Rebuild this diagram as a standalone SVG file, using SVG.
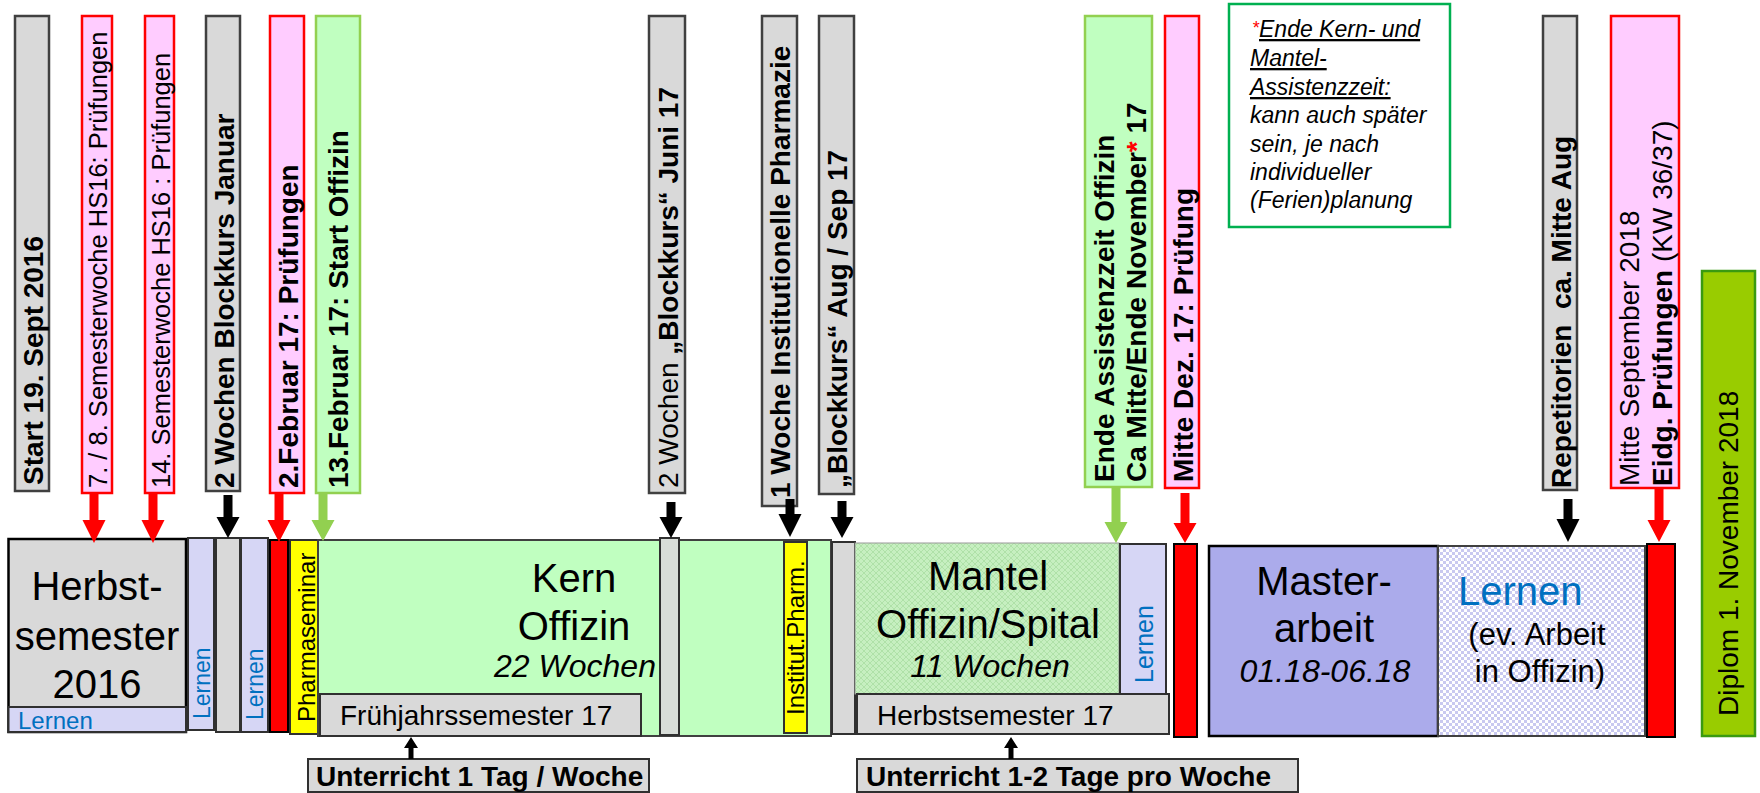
<svg xmlns="http://www.w3.org/2000/svg" width="1760" height="793" viewBox="0 0 1760 793">
<style>
text{font-family:"Liberation Sans",Arial,sans-serif;fill:#000}
.b28{font-size:28px;font-weight:bold}
.r25{font-size:25.5px}
.r28{font-size:28px}
.gbox{fill:#d9d9d9;stroke:#404040;stroke-width:2.5}
.pbox{fill:#ffccff;stroke:#ff0000;stroke-width:2.5}
.grbox{fill:#c0ffc0;stroke:#92d050;stroke-width:2.5}
.lern{fill:#d6d6f5;stroke:#303030;stroke-width:2}
.lt{fill:#0070c0}
.red{fill:#ff0000;stroke:#000;stroke-width:2}
.yel{fill:#ffff00;stroke:#303030;stroke-width:2}
.gray{fill:#d9d9d9;stroke:#303030;stroke-width:2}
.big{font-size:40px}
.it{font-style:italic}
.note{font-size:23px;font-style:italic}
.ar-r{fill:#ff0000}
.ar-k{fill:#000}
.ar-g{fill:#92d050}
</style>
<defs>
<pattern id="pMantel" width="6" height="6" patternUnits="userSpaceOnUse"><rect width="6" height="6" fill="#c6efc0"/><path d="M0 3 L3 0 L6 3 L3 6 Z" fill="none" stroke="#ade0a5" stroke-width="0.9"/></pattern>
<pattern id="pLernen" width="6" height="6" patternUnits="userSpaceOnUse"><rect width="6" height="6" fill="#ffffff"/><rect width="3" height="3" fill="#c9c9f0"/><rect x="3" y="3" width="3" height="3" fill="#c9c9f0"/></pattern>
</defs>

<!-- top labels -->
<g id="lbl-start"><rect class="gbox" x="15" y="16" width="34" height="475"/><text class="b28" transform="translate(43,485) rotate(-90)">Start 19. Sept 2016</text></g>
<g id="lbl-78"><rect class="pbox" x="82" y="16" width="30" height="477"/><text class="r25" transform="translate(107,488) rotate(-90)">7. / 8. Semesterwoche HS16: Prüfungen</text></g>
<g id="lbl-14"><rect class="pbox" x="145" y="16" width="29" height="477"/><text class="r25" transform="translate(170,488) rotate(-90)">14. Semesterwoche HS16 : Prüfungen</text></g>
<g id="lbl-januar"><rect class="gbox" x="206" y="16" width="34" height="475"/><text class="b28" transform="translate(234,488) rotate(-90)">2 Wochen Blockkurs Januar</text></g>
<g id="lbl-feb2"><rect class="pbox" x="270" y="16" width="34" height="477"/><text class="b28" transform="translate(298,488) rotate(-90)">2.Februar 17: Prüfungen</text></g>
<g id="lbl-feb13"><rect class="grbox" x="316" y="16" width="44" height="477"/><text class="b28" transform="translate(348,488) rotate(-90)">13.Februar 17: Start Offizin</text></g>
<g id="lbl-juni"><rect class="gbox" x="649" y="16" width="36" height="477"/><text class="b28" transform="translate(678,488) rotate(-90)"><tspan font-weight="normal">2 Wochen </tspan>„Blockkurs“ Juni 17</text></g>
<g id="lbl-institut"><rect class="gbox" x="762" y="16" width="35" height="490"/><text class="b28" transform="translate(790,498) rotate(-90)">1 Woche Institutionelle Pharmazie</text></g>
<g id="lbl-aug"><rect class="gbox" x="819" y="16" width="35" height="478"/><text class="b28" font-size="27px" transform="translate(847,488) rotate(-90)">„Blockkurs“ Aug / Sep 17</text></g>
<g id="lbl-ende"><rect class="grbox" x="1085" y="16" width="67" height="471"/><text class="b28" transform="translate(1114,482) rotate(-90)">Ende Assistenzzeit Offizin</text><text class="b28" transform="translate(1146,482) rotate(-90)">Ca Mitte/Ende November<tspan fill="#ff0000">*</tspan> 17</text></g>
<g id="lbl-dez"><rect class="pbox" x="1165" y="16" width="34" height="472"/><text class="b28" transform="translate(1193,482) rotate(-90)">Mitte Dez. 17: Prüfung</text></g>
<g id="note"><rect x="1229" y="4" width="221" height="223" fill="#fff" stroke="#00b050" stroke-width="2.5"/>
<text class="note" x="1252" y="37"><tspan fill="#ff0000" font-size="18px" dy="-3">*</tspan><tspan dy="3" text-decoration="underline">Ende Kern- und</tspan></text>
<text class="note" x="1250" y="66" text-decoration="underline">Mantel-</text>
<text class="note" x="1250" y="95" text-decoration="underline">Assistenzzeit:</text>
<text class="note" x="1250" y="123">kann auch später</text>
<text class="note" x="1250" y="152">sein, je nach</text>
<text class="note" x="1250" y="180">individueller</text>
<text class="note" x="1250" y="208">(Ferien)planung</text>
</g>
<g id="lbl-rep"><rect class="gbox" x="1543" y="16" width="34" height="474"/><text class="b28" transform="translate(1571,488) rotate(-90)" xml:space="preserve">Repetitorien  ca. Mitte Aug</text></g>
<g id="lbl-sept"><rect class="pbox" x="1611" y="16" width="68" height="472"/><text class="r28" transform="translate(1639,486) rotate(-90)">Mitte September 2018</text><text class="r28" transform="translate(1672,486) rotate(-90)"><tspan font-weight="bold">Eidg. Prüfungen</tspan> (KW 36/37)</text></g>
<g id="lbl-diplom"><rect x="1702" y="271" width="53" height="465" fill="#99cc00" stroke="#3a9a10" stroke-width="2.5"/><text class="r28" transform="translate(1738,716) rotate(-90)">Diplom 1. November 2018</text></g>

<!-- main bar -->
<g id="herbst16"><rect x="8.5" y="539" width="177.5" height="193" fill="#d9d9d9" stroke="#000" stroke-width="2.5"/>
<text class="big" x="97" y="600" text-anchor="middle">Herbst-</text>
<text class="big" x="97" y="650" text-anchor="middle">semester</text>
<text class="big" x="97" y="698" text-anchor="middle">2016</text>
<rect x="8.5" y="707" width="177.5" height="25" class="lern"/><text class="lt" font-size="24px" x="18" y="729">Lernen</text></g>
<g id="lernen1"><rect class="lern" x="188" y="538" width="26" height="192"/><text class="lt" font-size="23px" transform="translate(210,719) rotate(-90)">Lernen</text></g>
<g id="block-jan"><rect class="gray" x="216" y="538" width="24" height="194"/></g>
<g id="lernen2"><rect class="lern" x="241" y="538" width="27" height="194"/><text class="lt" font-size="23px" transform="translate(263,720) rotate(-90)">Lernen</text></g>
<g id="pruef-feb"><rect class="red" x="270" y="540" width="18" height="192"/></g>
<g id="pharmaseminar"><rect class="yel" x="290" y="540" width="28" height="194"/><text font-size="24px" transform="translate(315,722) rotate(-90)">Pharmaseminar</text></g>
<g id="kern"><rect x="318" y="540" width="513" height="196" fill="#c0ffc0" stroke="#404040" stroke-width="2"/>
<text class="big" x="574" y="592" text-anchor="middle">Kern</text>
<text class="big" x="574" y="640" text-anchor="middle">Offizin</text>
<text class="it" font-size="32px" x="575" y="677" text-anchor="middle">22 Wochen</text></g>
<g id="fs17"><rect class="gray" x="320" y="694" width="321" height="42"/><text class="r28" x="340" y="725">Frühjahrssemester 17</text></g>
<g id="block-juni"><rect x="660" y="538" width="19" height="197" fill="#d8ddd8" stroke="#303030" stroke-width="2"/></g>
<g id="institut"><rect class="yel" x="784" y="542" width="23" height="191"/><text font-size="24px" transform="translate(804,715) rotate(-90)">Institut.Pharm.</text></g>
<g id="block-aug"><rect class="gray" x="832" y="542" width="23" height="192"/></g>
<g id="mantel"><rect x="855" y="543" width="264" height="151" fill="url(#pMantel)" stroke="#999" stroke-width="1"/>
<text class="big" x="988" y="590" text-anchor="middle">Mantel</text>
<text class="big" x="988" y="638" text-anchor="middle">Offizin/Spital</text>
<text class="it" font-size="32px" x="990" y="677" text-anchor="middle">11 Wochen</text></g>
<g id="hs17"><rect class="gray" x="857" y="694" width="312" height="40"/><text class="r28" x="877" y="725">Herbstsemester 17</text></g>
<g id="lernen3"><rect class="lern" x="1120" y="544" width="46" height="150"/><text class="lt" font-size="25px" transform="translate(1153,683) rotate(-90)">Lernen</text></g>
<g id="pruef-dez"><rect class="red" x="1174" y="544" width="23" height="193"/></g>
<g id="master"><rect x="1209" y="546" width="229" height="190" fill="#ababeb" stroke="#000" stroke-width="2.5"/>
<text class="big" x="1324" y="595" text-anchor="middle">Master-</text>
<text class="big" x="1324" y="642" text-anchor="middle">arbeit</text>
<text class="it" font-size="32px" x="1325" y="682" text-anchor="middle">01.18-06.18</text></g>
<g id="lernen4"><rect x="1438" y="546" width="207" height="190" fill="url(#pLernen)" stroke="#404040" stroke-width="2"/>
<text class="lt big" x="1458" y="605">Lernen</text>
<text font-size="31px" x="1537" y="645" text-anchor="middle">(ev. Arbeit</text>
<text font-size="31px" x="1540" y="682" text-anchor="middle">in Offizin)</text></g>
<g id="pruef-eidg"><rect class="red" x="1647" y="544" width="28" height="193"/></g>

<!-- bottom boxes -->
<g id="unterricht1"><rect class="gray" x="308" y="759" width="341" height="33"/><text class="b28" x="316" y="786">Unterricht 1 Tag / Woche</text></g>
<g id="unterricht2"><rect class="gray" x="857" y="759" width="441" height="33"/><text class="b28" x="866" y="786">Unterricht 1-2 Tage pro Woche</text></g>

<!-- connectors -->
<g id="connectors">
<polygon class="ar-r" points="89.5,493 98.5,493 98.5,520 105.5,520 94,543 82.5,520 89.5,520"/>
<polygon class="ar-r" points="148.5,493 157.5,493 157.5,520 164.5,520 153,543 141.5,520 148.5,520"/>
<polygon class="ar-k" points="223.5,495 232.5,495 232.5,517 239.5,517 228,538 216.5,517 223.5,517"/>
<polygon class="ar-r" points="274.5,493 283.5,493 283.5,520 290.5,520 279,542 267.5,520 274.5,520"/>
<polygon class="ar-g" points="318.5,493 327.5,493 327.5,520 334.5,520 323,541 311.5,520 318.5,520"/>
<polygon class="ar-k" points="666.5,502 675.5,502 675.5,517 682.5,517 671,538 659.5,517 666.5,517"/>
<polygon class="ar-k" points="785.5,499 794.5,499 794.5,514 801.5,514 790,537 778.5,514 785.5,514"/>
<polygon class="ar-k" points="837.5,501 846.5,501 846.5,517 853.5,517 842,538 830.5,517 837.5,517"/>
<polygon class="ar-g" points="1111.5,487 1120.5,487 1120.5,522 1127.5,522 1116,543 1104.5,522 1111.5,522"/>
<polygon class="ar-r" points="1180.5,493 1189.5,493 1189.5,523 1196.5,523 1185,543 1173.5,523 1180.5,523"/>
<polygon class="ar-k" points="1563.5,499 1572.5,499 1572.5,519 1579.5,519 1568,542 1556.5,519 1563.5,519"/>
<polygon class="ar-r" points="1654.5,488 1663.5,488 1663.5,520 1670.5,520 1659,542 1647.5,520 1654.5,520"/>
<polygon class="ar-k" points="408.5,759 413.5,759 413.5,748 418,748 411,737 404,748 408.5,748"/>
<polygon class="ar-k" points="1008.5,759 1013.5,759 1013.5,748 1018,748 1011,737 1004,748 1008.5,748"/>
</g>
</svg>
